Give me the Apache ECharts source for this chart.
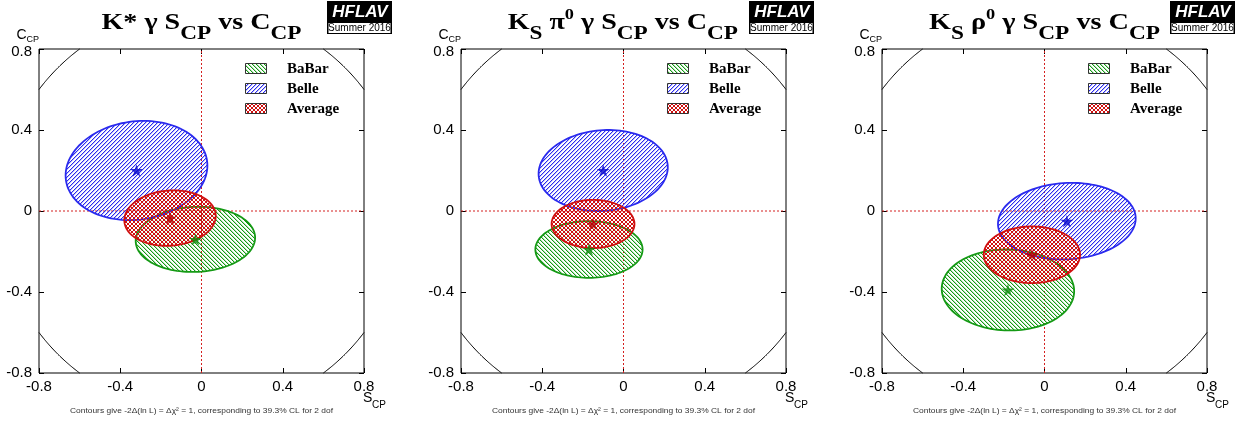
<!DOCTYPE html>
<html><head><meta charset="utf-8">
<script src="https://cdn.jsdelivr.net/npm/echarts@6/dist/echarts.min.js"></script>
<style>html,body{margin:0;padding:0;background:#fff}#c{width:1248px;height:425px}</style>
</head><body><div id="c"></div><script>
// ---------------- data ----------------
const tickValues = [-0.8, -0.4, 0, 0.4, 0.8];
const tickLabels = ['-0.8', '-0.4', '0', '0.4', '0.8'];
const axisMin = -0.8, axisMax = 0.8, axisStep = 0.4;
const circleRadius = 1;
const experiments = ['BaBar', 'Belle', 'Average'];
// panels: K* gamma, KS pi0 gamma, KS rho0 gamma
const babarS    = [-0.03, -0.17, -0.18];
const babarC    = [-0.14, -0.19, -0.39];
const babarErrS = [0.294, 0.264, 0.326];
const babarErrC = [0.161, 0.140, 0.200];
const babarCorr = [0.05, 0.00, -0.03];
const belleS    = [-0.32, -0.10, 0.11];
const belleC    = [0.20, 0.20, -0.05];
const belleErrS = [0.349, 0.318, 0.339];
const belleErrC = [0.245, 0.200, 0.189];
const belleCorr = [0.10, 0.08, 0.07];
const avgS      = [-0.155, -0.15, -0.062];
const avgC      = [-0.035, -0.064, -0.216];
const avgErrS   = [0.225, 0.204, 0.237];
const avgErrC   = [0.137, 0.119, 0.140];
const avgCorr   = [0.08, 0.00, 0.00];
const footnote = 'Contours give -2\u0394(ln L) = \u0394\u03c7\u00b2 = 1, corresponding to 39.3% CL for 2 dof';
const titlePieces = [
  [['K* \u03b3 S','m'],['CP','b'],[' vs C','m'],['CP','b']],
  [['K','m'],['S','b'],[' \u03c0','m'],['0','p'],[' \u03b3 S','m'],['CP','b'],[' vs C','m'],['CP','b']],
  [['K','m'],['S','b'],[' \u03c1','m'],['0','p'],[' \u03b3 S','m'],['CP','b'],[' vs C','m'],['CP','b']]
];

// ---------------- layout / style ----------------
const GL = [39, 461, 882], GT = 49, GW = 325, GH = 324;
const titleStart = [62.5, 46.7, 47];
const titleEnd = [262.5, 277, 278];
const lineCol = {BaBar:'#159a15', Belle:'#2a2aee', Average:'#d01010'};
const starCol = {BaBar:'#0a8a0a', Belle:'#0000cc', Average:'#b00000'};

function hexToRgb(h) { return [parseInt(h.substr(1,2),16), parseInt(h.substr(3,2),16), parseInt(h.substr(5,2),16)]; }
function makeHatch(color, dir) {
  const P = 4;
  const c = document.createElement('canvas'); c.width = P; c.height = P;
  const g = c.getContext('2d');
  const [r, gg, b] = hexToRgb(color);
  const rgba = a => 'rgba(' + r + ',' + gg + ',' + b + ',' + a + ')';
  for (let y = 0; y < P; y++) {
    if (dir === '/' || dir === 'x') {
      g.fillStyle = rgba(1); g.fillRect((P - 1 - y) % P, y, 1, 1);
      if (dir === '/') { g.fillStyle = rgba(0.3); g.fillRect((P - y) % P, y, 1, 1); }
    }
    if (dir === '\\' || dir === 'x') {
      g.fillStyle = rgba(1); g.fillRect(y, y, 1, 1);
      if (dir === '\\') { g.fillStyle = rgba(0.3); g.fillRect((y + 1) % P, y, 1, 1); }
    }
  }
  return {image: c, repeat: 'repeat'};
}
const fills = {BaBar: makeHatch(lineCol.BaBar, '\\'), Belle: makeHatch(lineCol.Belle, '/'), Average: makeHatch(lineCol.Average, 'x')};

const starPath = 'path://M50,0 L61,35 L98,35 L68,57 L79,91 L50,70 L21,91 L32,57 L2,35 L39,35 Z';

const dataSets = {
  BaBar: [babarS, babarC, babarErrS, babarErrC, babarCorr],
  Belle: [belleS, belleC, belleErrS, belleErrC, belleCorr],
  Average: [avgS, avgC, avgErrS, avgErrC, avgCorr]
};

function ellipseItem(name) {
  return function (params, api) {
    const x0 = api.value(0), y0 = api.value(1), sx = api.value(2), sy = api.value(3), r = api.value(4);
    const pts = [];
    const N = 120;
    for (let i = 0; i < N; i++) {
      const t = 2 * Math.PI * i / N;
      pts.push(api.coord([x0 + sx * Math.cos(t), y0 + sy * (r * Math.cos(t) + Math.sqrt(1 - r * r) * Math.sin(t))]));
    }
    return {type: 'polygon', shape: {points: pts}, style: {fill: fills[name], stroke: lineCol[name], lineWidth: 1.8}};
  };
}

function guideItem(params, api) {
  const R = api.value(0);
  const ch = [];
  const a = api.coord([0, axisMin]), b = api.coord([0, axisMax]);
  const c = api.coord([axisMin, 0]), d = api.coord([axisMax, 0]);
  ch.push({type:'line', shape:{x1:a[0], y1:a[1], x2:b[0], y2:b[1]}, style:{stroke:'#d42020', lineWidth:1, lineDash:[2,2]}});
  ch.push({type:'line', shape:{x1:c[0], y1:c[1], x2:d[0], y2:d[1]}, style:{stroke:'#d42020', lineWidth:1, lineDash:[2,2]}});
  const lo = Math.acos(Math.min(1, axisMax / R)), hi = Math.asin(Math.min(1, axisMax / R));
  for (let q = 0; q < 4; q++) {
    const pts = [];
    for (let i = 0; i <= 40; i++) {
      const th = q * Math.PI / 2 + lo + (hi - lo) * i / 40;
      pts.push(api.coord([R * Math.cos(th), R * Math.sin(th)]));
    }
    ch.push({type:'polyline', shape:{points:pts}, style:{stroke:'#000', lineWidth:1, fill:null}});
  }
  return {type:'group', children: ch};
}

const grids = [], xAxes = [], yAxes = [], series = [], graphics = [];
const labelFont = {fontSize: 15, fontFamily: 'Liberation Sans', color: '#000'};
function fmt(v) {
  const i = tickValues.findIndex(t => Math.abs(t - v) < 1e-9);
  return i >= 0 ? tickLabels[i] : '';
}

const mctx = document.createElement('canvas').getContext('2d');
function tw(text, font) { mctx.font = font; return mctx.measureText(text).width; }

for (let g = 0; g < 3; g++) {
  grids.push({left: GL[g], top: GT, width: GW, height: GH, show: true, borderColor: '#000', borderWidth: 1, backgroundColor: 'transparent'});
  const base = {gridIndex: g, type: 'value', min: axisMin, max: axisMax, interval: axisStep,
    axisLine: {show: false, onZero: false}, splitLine: {show: false},
    axisTick: {inside: true, length: 5, lineStyle: {color: '#000', width: 1}}};
  xAxes.push(Object.assign({}, base, {position: 'bottom', axisLabel: Object.assign({margin: 6, formatter: fmt}, labelFont)}));
  xAxes.push(Object.assign({}, base, {position: 'top', axisLabel: {show: false}}));
  yAxes.push(Object.assign({}, base, {position: 'left', axisLabel: Object.assign({margin: 7,
    formatter: v => Math.abs(v - axisMax) < 1e-9 ? '{t|' + fmt(v) + '}' : fmt(v),
    rich: {t: {fontSize: 15, fontFamily: 'Liberation Sans', color: '#000', padding: [6, 0, 0, 0]}}}, labelFont)}));
  yAxes.push(Object.assign({}, base, {position: 'right', axisLabel: {show: false}}));
  const xi = g * 2, yi = g * 2;
  series.push({type: 'custom', xAxisIndex: xi, yAxisIndex: yi, z: 1, silent: true, renderItem: guideItem, data: [[circleRadius, 0]]});
  for (const name of experiments) {
    const ds = dataSets[name];
    series.push({type: 'custom', name, xAxisIndex: xi, yAxisIndex: yi, z: 2, silent: true, renderItem: ellipseItem(name),
      data: [[ds[0][g], ds[1][g], ds[2][g], ds[3][g], ds[4][g]]]});
  }
  for (const name of experiments) {
    const ds = dataSets[name];
    series.push({type: 'scatter', name, xAxisIndex: xi, yAxisIndex: yi, z: 3, silent: true, symbol: starPath, symbolKeepAspect: true, symbolSize: 13,
      itemStyle: {color: starCol[name]}, data: [[ds[0][g], ds[1][g]]]});
  }

  const L = GL[g];
  // title
  const kinds = {m: {size: 23, base: 31}, b: {size: 19, base: 40.5}, p: {size: 15, base: 20.5}};
  let natural = 0;
  for (const [t, k] of titlePieces[g]) natural += tw(t, 'bold ' + kinds[k].size + 'px "Liberation Serif"');
  const sx = (titleEnd[g] - titleStart[g]) / natural;
  let x = L + titleStart[g];
  for (const [t, k] of titlePieces[g]) {
    const kd = kinds[k];
    const font = 'bold ' + kd.size + 'px "Liberation Serif"';
    graphics.push({type: 'text', x: x, y: kd.base - 0.3375 * kd.size, scaleX: sx,
      style: {text: t, font: font, fill: '#000', textAlign: 'left', textVerticalAlign: 'middle', align: 'left', verticalAlign: 'middle'}});
    x += tw(t, font) * sx;
  }
  // logo
  graphics.push({type: 'rect', shape: {x: L + 288, y: 1, width: 65, height: 33}, style: {fill: '#000'}});
  graphics.push({type: 'rect', shape: {x: L + 289.5, y: 23, width: 62, height: 10}, style: {fill: '#fff'}});
  graphics.push({type: 'text', x: L + 321, y: 12, style: {text: 'HFLAV', font: 'italic bold 17px "Liberation Sans"', fill: '#ffffff',
    textShadowColor: '#2fc22f', textShadowOffsetX: -1, textShadowOffsetY: 1, textShadowBlur: 0,
    textAlign: 'center', textVerticalAlign: 'middle', align: 'center', verticalAlign: 'middle'}});
  graphics.push({type: 'text', x: L + 320.5, y: 28, style: {text: 'Summer 2016', font: '10px "Liberation Sans"', fill: '#000',
    textAlign: 'center', textVerticalAlign: 'middle', align: 'center', verticalAlign: 'middle'}});
  // legend
  experiments.forEach((name, i) => {
    graphics.push({type: 'rect', shape: {x: L + 206.5, y: 63.5 + 20 * i, width: 21, height: 10},
      style: {fill: fills[name], stroke: '#333', lineWidth: 1}});
    graphics.push({type: 'text', x: L + 248, y: 74 + 20 * i - 0.3375 * 15, style: {text: name, font: 'bold 15px "Liberation Serif"', fill: '#000',
      textAlign: 'left', textVerticalAlign: 'middle', align: 'left', verticalAlign: 'middle'}});
  });
  // axis names
  graphics.push({type: 'text', x: L - 22.5, y: 40 - 0.3465 * 14, style: {text: 'C', font: '14px "Liberation Sans"', fill: '#000', textAlign: 'left', textVerticalAlign: 'middle', align: 'left', verticalAlign: 'middle'}});
  graphics.push({type: 'text', x: L - 12.5, y: 42.3 - 0.3465 * 9, style: {text: 'CP', font: '9px "Liberation Sans"', fill: '#000', textAlign: 'left', textVerticalAlign: 'middle', align: 'left', verticalAlign: 'middle'}});
  graphics.push({type: 'text', x: L + 324, y: 403.3 - 0.3465 * 14, style: {text: 'S', font: '14px "Liberation Sans"', fill: '#000', textAlign: 'left', textVerticalAlign: 'middle', align: 'left', verticalAlign: 'middle'}});
  graphics.push({type: 'text', x: L + 333, y: 408.3 - 0.3465 * 10, style: {text: 'CP', font: '10px "Liberation Sans"', fill: '#000', textAlign: 'left', textVerticalAlign: 'middle', align: 'left', verticalAlign: 'middle'}});
  // footnote
  const fFont = '8px "Liberation Sans"';
  const fsx = 263 / tw(footnote, fFont);
  graphics.push({type: 'text', x: L + 162.5, y: 411, scaleX: fsx, style: {text: footnote, font: fFont, fill: '#333',
    textAlign: 'center', textVerticalAlign: 'middle', align: 'center', verticalAlign: 'middle'}});
}

const chart = echarts.init(document.getElementById('c'), null, {renderer: 'canvas', width: 1248, height: 425});
chart.setOption({
  animation: false,
  backgroundColor: '#fff',
  grid: grids, xAxis: xAxes, yAxis: yAxes, series: series,
  graphic: {elements: graphics}
});
</script></body></html>
